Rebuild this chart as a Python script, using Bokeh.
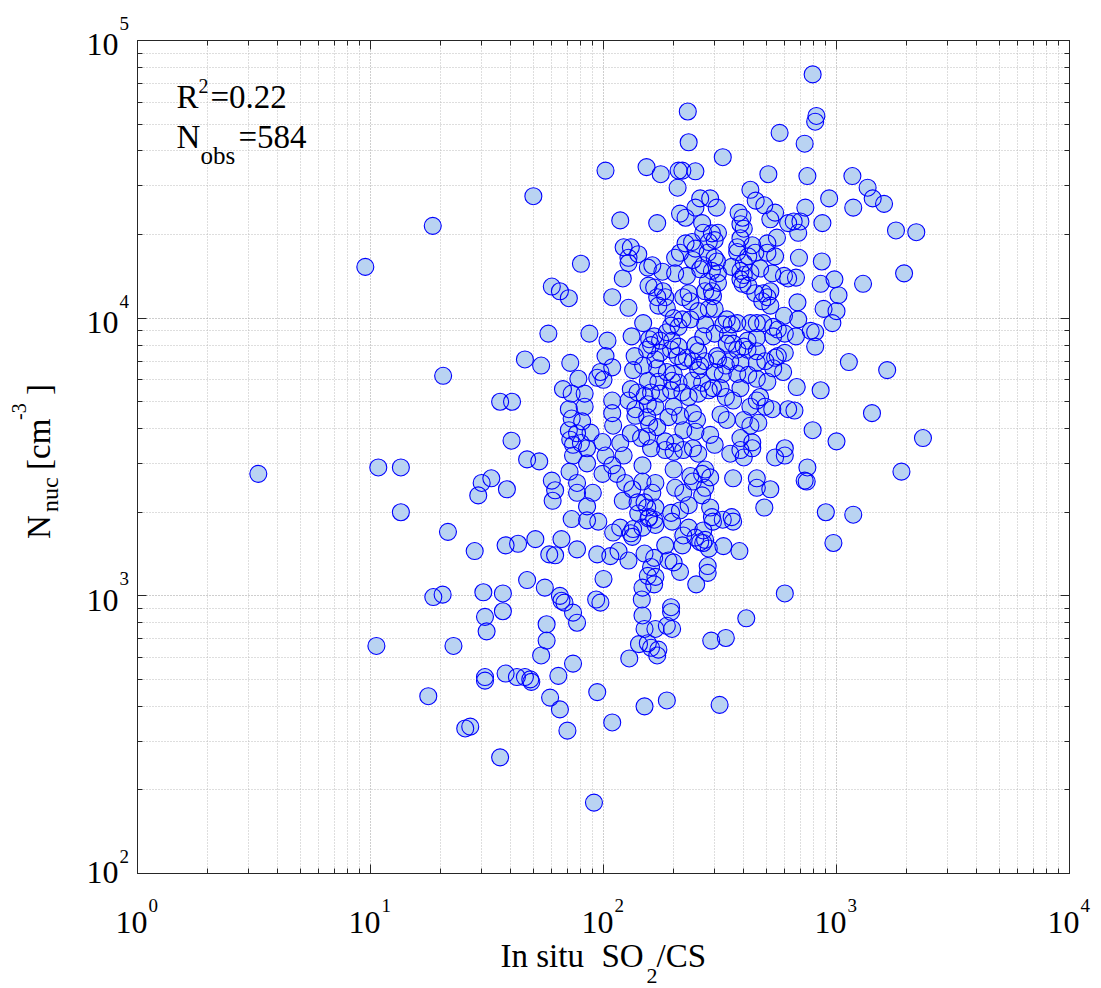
import math
from bokeh.plotting import figure
from bokeh.layouts import column, row
from bokeh.models import Range1d, FixedTicker, LogAxis, Label, CustomJSTickFormatter, ColumnDataSource
from bokeh.embed import file_html
from bokeh.resources import INLINE

# ---------------- data ----------------
# sparse points, SO2/CS < ~45
x_left = [3.3, 9.5, 18.5, 10.6, 10.8, 13.5, 13.5, 17.7, 18.6, 20.4,
          20.5, 21.5, 22.7, 36, 40.5, 40.3, 28, 30, 33, 29,
          38.5, 38, 30.5, 37, 37, 31, 31.5, 31, 31, 38,
          25.5, 26.8, 36]
y_left = [2750, 15300, 21500, 660, 2900, 2900, 2000, 435, 990, 1010,
          6200, 1700, 660, 5000, 5000, 3620, 1450, 2550, 2650, 2300,
          2420, 1520, 1030, 1020, 880, 840, 745, 510, 495, 525,
          333, 338, 262]

# 45..160, upper part
x_mid_hi = [50, 102, 153, 118, 80, 122, 131, 141, 128, 128,
            121, 155, 156, 60, 65, 71, 109, 128, 148, 58,
            87, 104, 132, 157, 46, 54, 72, 102, 109, 97,
            100, 136, 134, 154, 148, 78, 67, 73, 83, 94,
            71, 83, 73, 81, 71, 77, 88, 72, 80, 109,
            109, 110, 99, 131, 140, 128, 137, 137, 150, 154,
            131, 145, 154, 118]
y_mid_hi = [27500, 34000, 35000, 22500, 15700, 18000, 18000, 17000, 16500, 15800,
            13900, 15200, 13100, 13000, 12500, 11800, 11900, 10900, 9600, 8800,
            8800, 8300, 8600, 8400, 7100, 6750, 6900, 7300, 6650, 6400,
            6000, 7300, 6500, 7700, 6750, 6050, 5550, 5350, 5350, 6100,
            4700, 4800, 4350, 4250, 3950, 3850, 3870, 3650, 3550, 5050,
            4550, 4100, 3580, 5550, 5400, 5050, 4700, 4450, 5250, 4400,
            3850, 3700, 3750, 3550]

# 45..160, lower part
x_mid_lo = [47, 53, 60, 62, 60.5, 74, 74, 85, 85, 71.5,
            77, 77, 85, 90, 102, 99, 109, 114, 122, 124,
            133, 121, 140, 141, 154, 156, 134, 131, 133, 118,
            110, 95, 85, 73, 66, 51, 43, 58.5, 62, 77,
            94, 107, 116, 128, 150, 100, 47, 56, 65, 66,
            68, 74, 77, 93, 97, 146, 147, 150, 57, 57,
            54, 74, 64, 42.5, 46, 48.5, 49, 59, 65, 70,
            94, 109, 129, 142, 155, 150, 91]
y_mid_lo = [3100, 3050, 2600, 2400, 2200, 3200, 3500, 3400, 3000, 2800,
            2550, 2350, 2100, 2350, 3200, 2750, 2950, 2750, 3200, 2550,
            2420, 2200, 2170, 1980, 2080, 1900, 1740, 1680, 1630, 1760,
            1690, 1850, 1870, 1890, 1600, 1600, 1540, 1410, 1400, 1470,
            1410, 1390, 1450, 1340, 1420, 1150, 1140, 1070, 1000, 960,
            945, 870, 800, 970, 945, 970, 850, 760, 790, 690,
            610, 570, 515, 510, 510, 500, 490, 430, 390, 327,
            450, 350, 595, 670, 675, 400, 180]

# 160..650, upper part
x_core_hi = [230, 232, 570, 325, 176, 210, 218, 248, 208, 510,
             427, 450, 490, 545, 520, 620, 260, 287, 248, 306,
             213, 225, 170, 380, 395, 387, 400, 265, 268, 292,
             310, 283, 300, 387, 555, 225, 240, 248, 213, 505,
             375, 435, 448, 418, 545, 505, 375, 203, 280, 300,
             307, 242, 162, 179, 203, 228, 268, 260, 292, 310,
             355, 400, 387, 400, 427, 470, 530, 595, 620, 165,
             180, 280, 310, 273, 292, 295, 387, 395, 418, 448,
             485, 520, 505, 480, 520, 170, 184, 172, 187, 220,
             232, 236, 300, 283, 255, 595, 200, 218, 236, 195,
             210, 187, 273, 338, 355, 327, 375, 427, 455, 485,
             535, 560, 600, 535, 455, 415, 400, 342, 338, 360,
             375, 415, 455, 300, 268, 248, 255, 165, 160, 175,
             197, 210, 195, 175, 167, 208, 228, 220, 242, 260,
             273, 307, 310, 335, 350, 387, 455, 495, 535, 590,
             545, 560, 170, 187, 200, 255, 300, 325, 375, 418,
             455, 505, 155, 172, 197, 210, 240, 265, 295, 318,
             387, 160, 175, 195, 218, 232, 255, 283, 335, 360,
             455, 470, 495, 530, 620, 427, 155, 167, 200, 190,
             213, 242, 252, 318, 338, 400, 427, 462, 157, 170,
             220, 248, 287, 387, 435, 600, 184, 203]
y_core_hi = [55500, 43000, 46500, 38000, 33000, 34000, 34000, 33800, 29500, 33000,
             29000, 26500, 25500, 24000, 22700, 22000, 27000, 27000, 25000, 25000,
             23800, 23000, 22000, 24000, 23000, 21800, 21000, 22000, 20300, 20200,
             20300, 18800, 19100, 19400, 19500, 18600, 18800, 17800, 17200, 18600,
             18000, 18300, 17200, 16700, 16700, 17200, 17300, 16500, 17200, 16500,
             16000, 16200, 15500, 14700, 14500, 14200, 15500, 15000, 14800, 14500,
             15300, 15800, 14800, 14300, 14600, 15100, 14500, 14200, 13900, 12900,
             12500, 13500, 13400, 12500, 12500, 12000, 13800, 13300, 13100, 12300,
             12300, 12500, 11900, 11500, 11100, 11900, 11900, 11100, 10900, 11900,
             12300, 11500, 10800, 10800, 10600, 10200, 10000, 9900, 9900, 9400,
             9300, 8900, 9500, 9900, 9500, 9500, 9600, 9600, 9600, 9600,
             9300, 9100, 8800, 8600, 8500, 8300, 7900, 8700, 8100, 8100,
             7700, 7700, 7600, 8800, 8600, 8000, 7600, 8600, 8000, 8300,
             8300, 7900, 7700, 7500, 7100, 7300, 7200, 7000, 7000, 6750,
             7000, 7300, 7100, 6750, 7000, 6900, 6900, 7000, 6600, 6400,
             7200, 7300, 6600, 6400, 6300, 6500, 6400, 6300, 6300, 6250,
             6050, 5900, 5950, 5900, 5950, 5850, 5950, 5850, 5600, 5600,
             5600, 5400, 5350, 5500, 5400, 5200, 5350, 5500, 5200, 5050,
             5050, 5200, 4800, 4700, 4700, 4800, 4900, 4800, 4800, 4400,
             4450, 4550, 4300, 4500, 4300, 4300, 4100, 4200, 4150, 4050,
             3950, 3900, 3800, 3700, 3570, 3400, 3600, 3550]

# 140..650, lower part
x_core_lo = [160, 184, 200, 220, 242, 255, 300, 350, 387, 400,
             435, 545, 600, 360, 455, 455, 520, 490, 147, 147,
             167, 162, 150, 167, 200, 203, 220, 236, 242, 265,
             273, 287, 273, 265, 232, 213, 195, 197, 157, 147,
             165, 167, 287, 292, 325, 355, 360, 295, 232, 220,
             218, 184, 248, 268, 260, 268, 283, 273, 327, 383,
             165, 160, 155, 167, 165, 147, 190, 200, 213, 250,
             280, 280, 167, 195, 195, 197, 187, 160, 172, 170,
             290, 335, 410, 600, 187, 315]
y_core_lo = [3400, 3350, 3300, 3350, 3400, 3250, 3500, 3250, 3350, 3150,
             3400, 3150, 3200, 2650, 2650, 2450, 2420, 2080, 2950, 2580,
             2550, 2350, 2170, 2080, 2850, 2450, 2350, 2700, 2580, 2750,
             2850, 2670, 2450, 2300, 2120, 2030, 1990, 1850, 1920, 1760,
             1880, 1800, 2080, 1920, 1880, 1920, 1850, 1850, 1760, 1650,
             1520, 1520, 1620, 1720, 1560, 1550, 1480, 1590, 1510, 1450,
             1370, 1270, 1180, 1170, 1100, 1070, 1340, 1320, 1220, 1100,
             1280, 1210, 760, 910, 875, 760, 780, 650, 640, 610,
             690, 705, 830, 1020, 420, 405]

# SO2/CS > 650
x_right = [790, 820, 810, 730, 750, 1170, 1360, 1430, 1600, 930,
           1180, 735, 655, 700, 685, 870, 1800, 2200, 690, 865,
           670, 855, 980, 1300, 1950, 1020, 680, 880, 1000, 685,
           960, 775, 810, 670, 810, 600, 1130, 1650, 675, 855,
           660, 1420, 790, 1000, 2350, 750, 730, 745, 1900, 900,
           1180, 970]
y_right = [75500, 53500, 51000, 42500, 32500, 32500, 29500, 27000, 25800, 27000,
           25000, 25000, 22300, 22300, 20300, 22000, 20700, 20400, 16500, 16000,
           14000, 13300, 13800, 13300, 14500, 12100, 11400, 10800, 10600, 9900,
           9600, 9000, 8900, 8600, 7900, 7500, 6950, 6500, 5650, 5500,
           4650, 4550, 3950, 3600, 3700, 2900, 2600, 2580, 2800, 2000,
           1960, 1550]

x_major = [1, 10, 100, 1000, 10000]
x_exp = ["0", "1", "2", "3", "4"]
y_major = [100, 1000, 10000, 100000]
y_exp = ["2", "3", "4", "5"]
r2_value = "0.22"
n_obs_value = "584"

so2_cs = x_left + x_mid_hi + x_mid_lo + x_core_hi + x_core_lo + x_right
n_nuc = y_left + y_mid_hi + y_mid_lo + y_core_hi + y_core_lo + y_right
src = ColumnDataSource(dict(x=so2_cs, y=n_nuc))

# ---------------- layout geometry (pixels) ----------------
AX = "#262626"
FONT = "Liberation Serif"
FRAME_W, FRAME_H = 932, 833
LEFT_W = 129          # strip holding y tick labels and y axis label
BL, BR, BT, BB = 8, 32, 40, 19   # borders of the main figure
TOTAL_W, TOTAL_H = 1101, 988
MAIN_W = BL + FRAME_W + BR
MAIN_H = BT + FRAME_H + BB
BOTTOM_H = TOTAL_H - MAIN_H
X0, X1 = x_major[0], x_major[-1]
Y0, Y1 = y_major[0], y_major[-1]
dec_x = FRAME_W / math.log10(X1 / X0)
dec_y = FRAME_H / math.log10(Y1 / Y0)
FRAME_LEFT = LEFT_W + BL      # page x of the frame's left edge
BASE_K = 0.36   # observed drop of the text below its anchor, per px of font size

# ---------------- main figure ----------------
p = figure(width=MAIN_W, height=MAIN_H, x_axis_type="log", y_axis_type="log",
           x_range=Range1d(X0, X1), y_range=Range1d(Y0, Y1), title=None,
           output_backend="svg", toolbar_location=None,
           min_border_left=BL, min_border_right=BR,
           min_border_top=BT, min_border_bottom=BB)
p.background_fill_color = "white"
p.border_fill_color = "white"
p.outline_line_color = AX
p.outline_line_width = 1
p.frame_align = False


def minors(lo, hi):
    return [m * 10 ** e for e in range(lo, hi) for m in range(2, 10)]


xticker = FixedTicker(ticks=x_major, minor_ticks=minors(0, 4))
yticker = FixedTicker(ticks=y_major, minor_ticks=minors(2, 5))


def style_axis(ax, ticker):
    ax.ticker = ticker
    ax.formatter = CustomJSTickFormatter(code="return ''")
    ax.major_label_text_font_size = "0px"
    ax.major_label_standoff = 0
    ax.axis_line_color = AX
    ax.axis_line_width = 1
    ax.major_tick_line_color = AX
    ax.minor_tick_line_color = AX
    ax.major_tick_in = 9
    ax.major_tick_out = 0
    ax.minor_tick_in = 5
    ax.minor_tick_out = 0
    ax.axis_label = None


style_axis(p.xaxis[0], xticker)
style_axis(p.yaxis[0], yticker)
top = LogAxis()
right = LogAxis()
style_axis(top, xticker)
style_axis(right, yticker)
p.add_layout(top, "above")
p.add_layout(right, "right")

for g, t in ((p.xgrid, xticker), (p.ygrid, yticker)):
    g.ticker = t
    g.grid_line_color = "#9c9c9c"
    g.grid_line_dash = "1 2"
    g.grid_line_width = 1
    g.minor_grid_line_color = "#bcbcbc"
    g.minor_grid_line_dash = "1 2"
    g.minor_grid_line_width = 1

# markers: fills first, then outlines, so every outline stays visible
p.scatter("x", "y", source=src, size=17, fill_color="#b9d3f2", line_color=None)
p.scatter("x", "y", source=src, size=17, fill_color=None,
          line_color="#0000ff", line_width=1.1)


def lab(fig, x, y, text, size, dx, dy, align="left", angle=0.0):
    # dx, dy: wanted offset of the glyph baseline start from the anchor (px, up = +)
    if angle:
        dx = dx - BASE_K * size
    else:
        dy = dy + BASE_K * size
    fig.add_layout(Label(x=x, y=y, text=text, x_offset=dx, y_offset=dy,
                         text_font=FONT, text_font_size=f"{size}px",
                         text_align=align, text_baseline="alphabetic",
                         text_color="black", angle=angle))


# statistics text (inside the frame)
lab(p, X0, Y1, "R", 33, 39, -68)
lab(p, X0, Y1, "2", 20, 61, -53)
lab(p, X0, Y1, "=" + r2_value, 33, 73, -68)
lab(p, X0, Y1, "N", 33, 39, -108)
lab(p, X0, Y1, "obs", 25, 63, -124)
lab(p, X0, Y1, "=" + n_obs_value, 33, 101, -108)


def blank_fig(w, h, xr, yr, xt, yt):
    f = figure(width=w, height=h, x_range=xr, y_range=yr,
               x_axis_type=xt, y_axis_type=yt, title=None,
               x_axis_location=None, y_axis_location=None,
               output_backend="svg", toolbar_location=None,
               min_border=0, min_border_left=0, min_border_right=0,
               min_border_top=0, min_border_bottom=0)
    f.outline_line_color = None
    f.background_fill_color = "white"
    f.border_fill_color = "white"
    f.grid.visible = False
    f.frame_align = False
    return f


# ---------------- left strip: y tick labels + y axis label ----------------
pl = blank_fig(LEFT_W, MAIN_H, Range1d(0, 1),
               Range1d(Y0 / 10 ** (BB / dec_y), Y1 * 10 ** (BT / dec_y)),
               "linear", "log")
for i, (t, e) in enumerate(zip(y_major, y_exp)):
    drop = -11 if i == 0 else -16   # lowest label kept inside the strip
    lab(pl, 1, t, "10", 32, -11, drop, "right")
    lab(pl, 1, t, e, 19, -10, 10)

ym = math.sqrt(Y0 * Y1)
rot = math.pi / 2
lab(pl, 1, ym, "N", 33, -79, -82, angle=rot)
lab(pl, 1, ym, "nuc", 24, -71, -55, angle=rot)
lab(pl, 1, ym, "[cm", 33, -79, -13, angle=rot)
lab(pl, 1, ym, "-3", 20, -103, 37, angle=rot)
lab(pl, 1, ym, "]", 33, -79, 62, angle=rot)

# ---------------- bottom strip: x tick labels + x axis label ----------------
pb = blank_fig(TOTAL_W, BOTTOM_H,
               Range1d(X0 / 10 ** (FRAME_LEFT / dec_x),
                       X1 * 10 ** ((TOTAL_W - FRAME_LEFT - FRAME_W) / dec_x)),
               Range1d(0, 1), "log", "linear")
top_y = MAIN_H  # page y of the strip's top edge
for t, e in zip(x_major, x_exp):
    lab(pb, t, 1, "10", 32, 10, -(934 - top_y), "right")
    lab(pb, t, 1, e, 19, 11, -(912 - top_y))

xm = math.sqrt(X0 * X1)
lab(pb, xm, 1, "In situ", 33, -103, -(967 - top_y))
lab(pb, xm, 1, "SO", 33, -2, -(967 - top_y))
lab(pb, xm, 1, "2", 22, 43, -(983 - top_y))
lab(pb, xm, 1, "/CS", 33, 53, -(967 - top_y))

layout = column(row(pl, p), pb)
open("out.html", "w").write(file_html(layout, INLINE))
